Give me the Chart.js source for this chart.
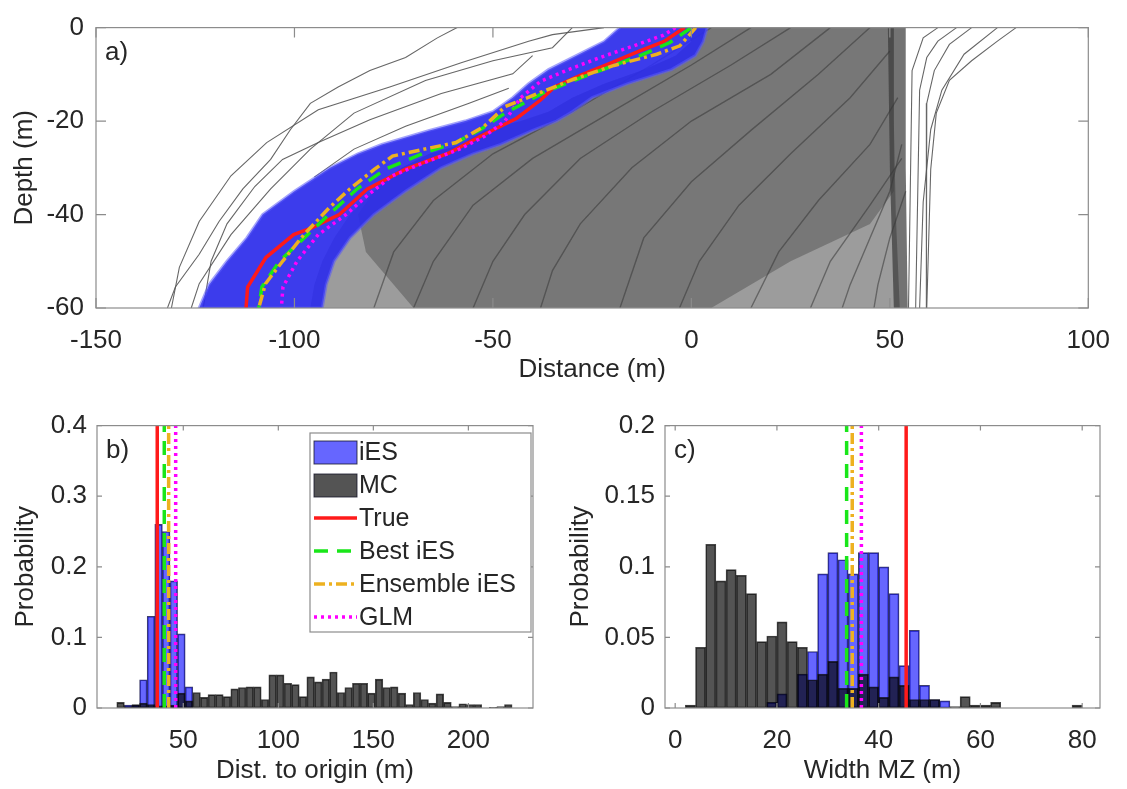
<!DOCTYPE html>
<html lang="en">
<head>
<meta charset="UTF-8">
<title>Mixing zone: iES vs MC</title>
<script src="https://cdn.jsdelivr.net/npm/chart.js@4.4.1/dist/chart.umd.min.js"></script>
<style>
  body { margin: 0; background: #fff; }
  #fig { position: relative; width: 1127px; height: 789px; }
  #fig canvas { position: absolute; }
</style>
</head>
<body>
<div id="fig">
  <canvas id="panelA" width="1127" height="392" style="left:0;top:0"></canvas>
  <canvas id="panelB" width="560" height="389" style="left:0;top:400px"></canvas>
  <canvas id="panelC" width="567" height="389" style="left:560px;top:400px"></canvas>
</div>
<script>
// ---- panel a) : interface position vs depth ----
const aXTicks = [-150, -100, -50, 0, 50, 100];
const aYTicks = [-60, -40, -20, 0];

const trueX     = [-1.7, -7, -13, -21, -28, -34.5, -38, -44, -53, -61, -72, -81.6, -88.7, -95.8, -100.2, -107.2, -111.8, -112.2];
const trueDepth = [0, -3, -5, -7.8, -10.2, -12.7, -15.5, -19.4, -23.2, -26.8, -30.3, -34.5, -40, -42.9, -44.3, -49.2, -55.5, -60];

const bestX     = [0, -5.4, -12.9, -28.7, -37, -46.9, -53.1, -59.3, -67.3, -77.1, -84.2, -91.3, -96.7, -103.8, -108.2, -109];
const bestDepth = [0, -3.2, -6, -11, -13.8, -18.3, -21.8, -24.6, -26.8, -30.3, -34.5, -40, -44.3, -50, -55.5, -60];

const ensX      = [1.1, -2.9, -8.7, -19.5, -29.5, -38.7, -46.9, -52.2, -59.3, -67.3, -75.3, -79.8, -86, -91.3, -97.6, -102.9, -107.3, -109];
const ensDepth  = [0, -3.9, -5.7, -8.1, -11, -14.1, -16.9, -21.1, -24.6, -26, -27.5, -30.3, -34.5, -38.6, -44.3, -49.9, -54.8, -60];

const glmX      = [-4, -7, -14.5, -23, -31, -38, -43, -47, -52, -58.4, -67.3, -75.3, -81.6, -87, -94, -99.3, -102.9, -103.3];
const glmDepth  = [0, -1.6, -3.9, -6.4, -9, -11.5, -15, -20, -23.2, -26, -28.9, -31.7, -35.9, -40, -44.3, -49.9, -55.5, -60];

// envelope of the iES ensemble (left and right edges at the same depths)
const iesDepth  = [0, -3, -6, -9, -12, -15, -18, -20, -22, -25, -27, -30, -35, -40, -45, -50, -55, -60];
const iesLeftX  = [-18, -22, -29, -36, -41, -45, -50, -57, -66, -78, -84, -91, -100, -108, -112, -117, -121.5, -124];
const iesRightX = [4, 3, 1, -5, -16, -25, -30, -34, -40, -48, -55, -63, -72, -80, -86, -90, -92, -93];

// MC ensemble: area covered by the realisations, its dense core and the vertical bundle
const mcOuterX     = [-2, 0, -4, -12, -22, -30, -36, -43, -52, -58, -66, -73, -80, -86, -90, -93, -95, -96, 52.5, 51.5, 51, 51];
const mcOuterDepth = [0, -3, -6, -9, -12, -15, -18, -20, -22, -25, -27, -30, -35, -40, -45, -50, -55, -60, -60, -40, -20, 0];
const mcCoreX      = [-2, 0, -4, -12, -22, -30, -36, -43, -52, -58, -66, -73, -80, -84, -82, -76, -70, 5, 25, 45, 51, 51];
const mcCoreDepth  = [0, -3, -6, -9, -12, -15, -18, -20, -22, -25, -27, -30, -35, -40, -48, -54, -60, -60, -50, -42, -35, 0];
const mcColX       = [49.5, 54, 54, 54.5, 51, 50];
const mcColDepth   = [0, 0, -30, -60, -60, -30];

// single MC realisations, [distance, depth]
const mcLineA = [[-59,0],[-64,-2.2],[-72,-6.4],[-81,-9.2],[-89,-12.7],[-96,-16.2],[-101,-21.8],[-106,-28.2],[-113,-34.5],[-119,-41.5],[-124,-48.5],[-130,-55.5],[-132,-60]];
const mcLineB = [[-22,0],[-35,-1.5],[-41,-2.9],[-58,-7.5],[-76,-12.7],[-94,-17.6],[-107,-24.6],[-116,-31.7],[-124,-41.5],[-129,-51.3],[-131,-60]];
const mcLineC = [[-30,0],[-35,-4.3],[-50,-7.1],[-67,-11.3],[-85,-18.3],[-96,-26],[-106,-34.5],[-116,-44.3],[-124,-54.8],[-126,-60]];
const mcLineD = [[-40,-6],[-45,-9.9],[-63,-14.1],[-81,-19.7],[-94,-24.6],[-103,-28.2],[-110,-34],[-117,-42],[-121,-50],[-123,-60]];
const mcLineE = [[-46,-13],[-56,-16.2],[-72,-21.1],[-85,-26],[-95,-32]];
const mcLineR1 = [[81.8,0],[77.1,-2.9],[70.6,-7.1],[65,-11.3],[61.7,-18.3],[60.3,-30.3],[59.3,-60]];
const mcLineR2 = [[70.6,0],[65,-3.6],[61.2,-9.2],[59.3,-16.2],[59.2,-60]];
const mcLineR3 = [[66.8,0],[62.1,-2.9],[59.3,-6.4],[57.5,-13.4],[56.5,-60]];
const mcLineR4 = [[77.1,0],[68.7,-5.7],[63.1,-13.4],[60.3,-21.8],[58.4,-37.3],[57.5,-60]];
const mcLineR5 = [[62.1,0],[58.4,-2.2],[55.6,-9.2],[54.7,-60]];
const mcLineL1 = [[53,-25],[50,-35],[45,-45],[40,-55],[38,-60]];
const mcLineL2 = [[54,-35],[50,-45],[47,-55],[46,-60]];
const mcLineM1 = [[5,0],[-10,-8],[-30,-18],[-50,-27],[-65,-37],[-75,-48],[-80,-60]];
const mcLineM2 = [[15,0],[0,-8],[-20,-18],[-40,-28],[-55,-38],[-65,-50],[-70,-60]];
const mcLineM3 = [[25,0],[10,-8],[-10,-18],[-28,-28],[-42,-40],[-50,-50],[-55,-60]];
const mcLineM4 = [[35,0],[20,-10],[0,-20],[-15,-30],[-28,-42],[-35,-52],[-38,-60]];
const mcLineM5 = [[45,0],[32,-10],[15,-22],[0,-33],[-12,-45],[-18,-60]];
const mcLineM6 = [[50,-5],[40,-15],[25,-27],[12,-38],[2,-50],[-3,-60]];
const mcLineM7 = [[52,-15],[45,-25],[32,-37],[22,-48],[15,-60]];
const mcLineM8 = [[53,-28],[45,-38],[35,-50],[30,-60]];

// ---- panel b) : distance to origin histograms ----
const bXTicks = [50, 100, 150, 200];
const bYTicks = [0, 0.1, 0.2, 0.3, 0.4];
const bBinWidth = 4;
const bMcStart = 15;
const bMcProb = [0.008, 0.002, 0.005, 0.007, 0.005, 0.003, 0.003, 0.004, 0.021, 0.01,
                 0.022, 0.015, 0.019, 0.019, 0.016, 0.027, 0.029, 0.03, 0.03, 0.012,
                 0.047, 0.047, 0.035, 0.033, 0.016, 0.044, 0.037, 0.041, 0.051, 0.022,
                 0.029, 0.035, 0.035, 0.021, 0.041, 0.029, 0.03, 0.021, 0.005, 0.022,
                 0.012, 0.007, 0.02, 0.008, 0.002, 0.006, 0.005, 0.005, 0, 0.001,
                 0.002, 0.005];
const bIesStart = 19;
const bIesProb = [0.004, 0.004, 0.04, 0.13, 0.26, 0.25, 0.18, 0.105, 0.03];
const bRefLines = [36.3, 40, 42.3, 46];   // True, Best iES, Ensemble iES, GLM

// ---- panel c) : width of the mixing zone histograms ----
const cXTicks = [0, 20, 40, 60, 80];
const cYTicks = [0, 0.05, 0.1, 0.15, 0.2];
const cBinWidth = 2;
const cMcStart = 2;
const cMcProb = [0.002, 0.043, 0.116, 0.09, 0.098, 0.094, 0.081, 0.047, 0.051, 0.061,
                 0.047, 0.043, 0.02, 0.024, 0.033, 0.014, 0.014, 0.024, 0.015, 0.0075,
                 0.022, 0.016, 0.006, 0.006, 0.006, 0, 0.001, 0.008, 0.002, 0.002,
                 0.004, 0, 0, 0, 0, 0, 0, 0, 0.002];
const cIesStart = 18;
const cIesProb = [0.004, 0.01, 0, 0.024, 0.04, 0.095, 0.11, 0.105, 0.095, 0.11,
                  0.11, 0.1, 0.081, 0.03, 0.055, 0.016, 0.006, 0.005];
const cRefLines = [45.4, 33.7, 34.8, 36.6];  // True, Best iES, Ensemble iES, GLM

const legendLabels = ['iES', 'MC', 'True', 'Best iES', 'Ensemble iES', 'GLM'];

// ---- styles ----
const FONT = '"Liberation Sans", Arial, Helvetica, sans-serif';
const INK = '#262626';
const FRAME = '#8c8c8c';
const IES_FILL = 'rgba(0, 0, 255, 0.6)';
const MC_FILL = 'rgba(0, 0, 0, 0.67)';
const refStyles = [
  { color: '#ff1a1a', dash: [], width: 3.5 },            // True
  { color: '#19e619', dash: [14, 9], width: 3.5 },       // Best iES
  { color: '#edb120', dash: [11, 4, 3, 4], width: 3.5 }, // Ensemble iES
  { color: '#ff00ff', dash: [3, 4], width: 3.5 }         // GLM
];

function pts(xs, ys) { return xs.map((x, i) => ({ x: x, y: ys[i] })); }
function pairs(arr) { return arr.map(p => ({ x: p[0], y: p[1] })); }
function bins(start, width, probs) {
  return probs.map((p, i) => ({ x: start + width * (i + 0.5), y: p }));
}

// box, inward ticks and panel letter, drawn the MATLAB way
const framePlugin = {
  id: 'frame',
  afterDatasetsDraw(chart, args, opts) {
    const { ctx, chartArea: a } = chart;
    const xs = chart.scales.x, ys = chart.scales.y;
    const tl = opts.tickLen;
    ctx.save();
    ctx.strokeStyle = FRAME;
    ctx.lineWidth = 1.2;
    ctx.beginPath();
    xs.ticks.forEach(t => {
      const p = xs.getPixelForValue(t.value);
      ctx.moveTo(p, a.bottom); ctx.lineTo(p, a.bottom - tl);
      ctx.moveTo(p, a.top); ctx.lineTo(p, a.top + tl);
    });
    ys.ticks.forEach(t => {
      const p = ys.getPixelForValue(t.value);
      ctx.moveTo(a.left, p); ctx.lineTo(a.left + tl, p);
      ctx.moveTo(a.right, p); ctx.lineTo(a.right - tl, p);
    });
    ctx.stroke();
    ctx.strokeRect(a.left, a.top, a.right - a.left, a.bottom - a.top);
    ctx.fillStyle = INK;
    ctx.font = '26px ' + FONT;
    ctx.textBaseline = 'alphabetic';
    ctx.fillText(opts.label, a.left + 9, a.top + 32);
    ctx.restore();
  }
};

// legend of panel b)
const legendPlugin = {
  id: 'mzLegend',
  afterDraw(chart, args, opts) {
    if (!opts.box) return;
    const ctx = chart.ctx, b = opts.box;
    ctx.save();
    ctx.fillStyle = '#fff';
    ctx.fillRect(b.left, b.top, b.width, b.height);
    ctx.strokeStyle = FRAME;
    ctx.lineWidth = 1.2;
    ctx.strokeRect(b.left, b.top, b.width, b.height);
    legendLabels.forEach((text, i) => {
      const yc = b.top + 19 + i * 33;
      const x0 = b.left + 4, x1 = b.left + 47;
      if (i < 2) {
        ctx.fillStyle = i === 0 ? IES_FILL : MC_FILL;
        ctx.fillRect(x0, yc - 11, x1 - x0, 23);
        ctx.strokeStyle = 'rgba(20,20,40,0.8)';
        ctx.lineWidth = 1;
        ctx.strokeRect(x0, yc - 11, x1 - x0, 23);
      } else {
        const s = refStyles[i - 2];
        ctx.strokeStyle = s.color;
        ctx.lineWidth = s.width;
        ctx.setLineDash(s.dash);
        ctx.beginPath();
        ctx.moveTo(x0, yc); ctx.lineTo(x1, yc);
        ctx.stroke();
        ctx.setLineDash([]);
      }
      ctx.fillStyle = INK;
      ctx.font = '25px ' + FONT;
      ctx.textBaseline = 'middle';
      ctx.fillText(text, b.left + 49, yc + 1);
    });
    ctx.restore();
  }
};

function axis(min, max, ticks, title, size, horizontal, tickPad, titlePad) {
  return {
    type: 'linear', min: min, max: max, offset: false,
    grid: { display: false, drawTicks: false },
    border: { display: false },
    afterBuildTicks: s => { s.ticks = ticks.map(v => ({ value: v })); },
    afterFit: s => { if (horizontal) s.height = size; else s.width = size; },
    ticks: { color: INK, font: { family: FONT, size: 26 }, padding: tickPad,
             maxRotation: 0, autoSkip: false, callback: v => String(v) },
    title: { display: true, text: title, color: INK,
             font: { family: FONT, size: 26 }, padding: titlePad }
  };
}

function lineSet(data, color, width, dash, order) {
  return { type: 'line', data: data, borderColor: color, borderWidth: width,
           borderDash: dash, pointRadius: 0, fill: false, order: order };
}
function shapeSet(data, color, order, edge) {
  return { type: 'line', data: data, backgroundColor: color, borderColor: edge || 'rgba(0,0,0,0)',
           borderWidth: edge ? 3 : 0, pointRadius: 0, fill: 'shape', order: order };
}

// ---- panel a) ----
const mcSparse = [mcLineA, mcLineB, mcLineC, mcLineD, mcLineE, mcLineR1, mcLineR2,
                  mcLineR3, mcLineR4, mcLineR5];
const mcDense = [mcLineL1, mcLineL2, mcLineM1, mcLineM2, mcLineM3, mcLineM4,
                 mcLineM5, mcLineM6, mcLineM7, mcLineM8];
const bandPts = pts(iesLeftX, iesDepth).concat(pts(iesRightX, iesDepth).reverse());

new Chart(document.getElementById('panelA'), {
  type: 'scatter',
  data: {
    datasets: [
      lineSet(pts(ensX, ensDepth), refStyles[2].color, 3.5, refStyles[2].dash, 0),
      lineSet(pts(bestX, bestDepth), refStyles[1].color, 3.5, refStyles[1].dash, 1),
      lineSet(pts(glmX, glmDepth), refStyles[3].color, 3.5, refStyles[3].dash, 2),
      lineSet(pts(trueX, trueDepth), refStyles[0].color, 3.5, [], 3),
      shapeSet(bandPts, 'rgba(45,45,235,0.93)', 10, 'rgba(90,90,250,0.55)'),
      ...mcSparse.map(l => lineSet(pairs(l), 'rgba(85,85,85,0.9)', 1.1, [], 11)),
      ...mcDense.map(l => lineSet(pairs(l), 'rgba(55,55,55,0.55)', 1.4, [], 11)),
      shapeSet(pts(mcColX, mcColDepth), 'rgba(55,55,55,0.7)', 12),
      shapeSet(pts(mcCoreX, mcCoreDepth), 'rgba(70,70,70,0.42)', 13),
      shapeSet(pts(mcOuterX, mcOuterDepth), 'rgba(90,90,90,0.6)', 14)
    ]
  },
  options: {
    animation: false, responsive: false,
    layout: { padding: { left: 0, right: 26, top: 23, bottom: 0 } },
    plugins: { legend: { display: false }, tooltip: { enabled: false },
               frame: { tickLen: 10, label: 'a)' } },
    scales: {
      x: axis(-150, 100, aXTicks, 'Distance (m)', 84, true, 17, { top: 0, bottom: 7 }),
      y: axis(-60, 0, aYTicks, 'Depth (m)', 96, false, 12, { top: 9, bottom: 0 })
    }
  },
  plugins: [framePlugin]
});

// ---- panels b) and c) ----
function histChart(id, xMin, xMax, xTicks, yMax, yTicks, xTitle, yWidth, mc, ies, refs, label, extra) {
  const refSets = refs.map((v, i) => lineSet([{ x: v, y: 0 }, { x: v, y: yMax }],
    refStyles[i].color, refStyles[i].width, refStyles[i].dash, i === 0 ? 3 : 2 - i + 0.5));
  return new Chart(document.getElementById(id), {
    type: 'bar',
    data: {
      datasets: [
        ...refSets,
        { type: 'bar', label: 'MC', data: mc, backgroundColor: MC_FILL, borderColor: 'rgba(10,10,10,0.75)',
          borderWidth: 1, borderSkipped: false, grouped: false, barPercentage: 1, categoryPercentage: 1, order: 5 },
        { type: 'bar', label: 'iES', data: ies, backgroundColor: IES_FILL, borderColor: 'rgba(15,15,70,0.8)',
          borderWidth: 1, borderSkipped: false, grouped: false, barPercentage: 1, categoryPercentage: 1, order: 6 }
      ]
    },
    options: {
      animation: false, responsive: false,
      layout: { padding: { left: 0, right: 27, top: 23, bottom: 0 } },
      plugins: { legend: { display: false }, tooltip: { enabled: false },
                 frame: { tickLen: 5, label: label }, mzLegend: extra },
      scales: {
        x: axis(xMin, xMax, xTicks, xTitle, 81, true, 17, { top: 0, bottom: 3 }),
        y: axis(0, yMax, yTicks, 'Probability', yWidth, false, 10, { top: yWidth > 100 ? 5 : 10, bottom: 0 })
      }
    },
    plugins: [framePlugin, legendPlugin]
  });
}

histChart('panelB', 4.6, 234, bXTicks, 0.4, bYTicks, 'Dist. to origin (m)', 97,
  bins(bMcStart, bBinWidth, bMcProb), bins(bIesStart, bBinWidth, bIesProb), bRefLines, 'b)',
  { box: { left: 310, top: 33, width: 221, height: 199 } });

histChart('panelC', -2, 83.5, cXTicks, 0.2, cYTicks, 'Width MZ (m)', 105,
  bins(cMcStart, cBinWidth, cMcProb), bins(cIesStart, cBinWidth, cIesProb), cRefLines, 'c)',
  {});
</script>
</body>
</html>
